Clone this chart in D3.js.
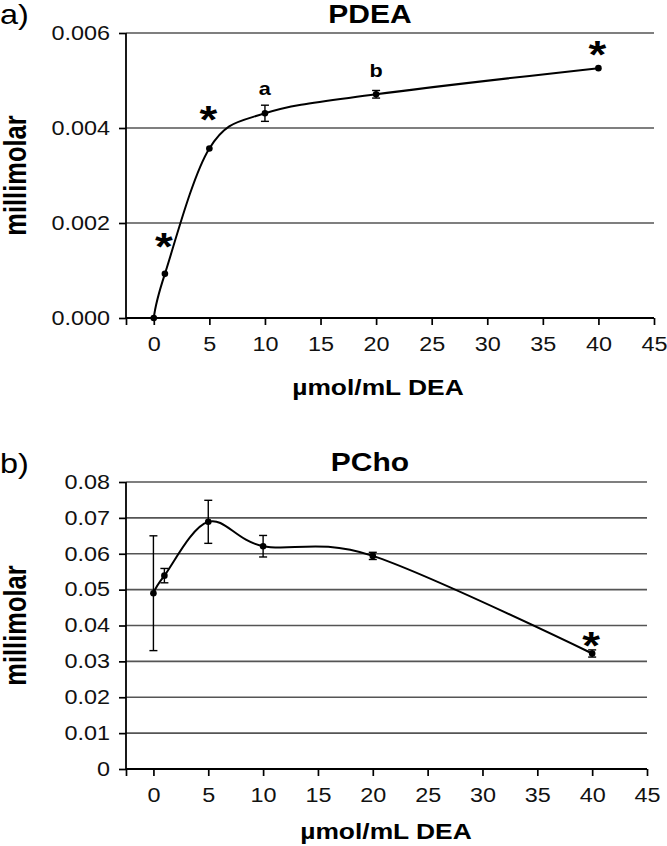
<!DOCTYPE html>
<html>
<head>
<meta charset="utf-8">
<script src="https://cdn.jsdelivr.net/npm/d3@7"></script>
<style>
  body { margin: 0; background: #fff; }
  text { font-family: "Liberation Sans", Arial, sans-serif; }
  /* the original figure is a bit stretched sideways */
  .sx { transform-box: fill-box; transform-origin: center; transform: scaleX(1.2); }
  .sxr { transform-box: fill-box; transform-origin: right center; transform: scaleX(1.2); }
  .sxl { transform-box: fill-box; transform-origin: left center; transform: scaleX(1.2); }
</style>
</head>
<body>
<script>
// doses of DEA and measured concentrations (millimolar)
const doses = [0, 1, 5, 10, 20, 40]
const pdea = [0, 0.00093, 0.00357, 0.00431, 0.00471, 0.00526]
const pdeaErr = [0, 0, 0, 0.00017, 0.00008, 0]
const pcho = [0.049, 0.0539, 0.0689, 0.0621, 0.0594, 0.0322]
const pchoErr = [0.016, 0.002, 0.006, 0.003, 0.001, 0.001]

const xTicks = [0, 5, 10, 15, 20, 25, 30, 35, 40, 45]
const pdeaTicks = [0, 0.002, 0.004, 0.006]
const pchoTicks = [0, 0.01, 0.02, 0.03, 0.04, 0.05, 0.06, 0.07, 0.08]

// significance marks: [dose, level where the mark sits, text]
const pdeaMarks = [[1, 0.00166, '*'], [5, 0.00434, '*'], [40, 0.00571, '*'], [10, 0.0048, 'a'], [20, 0.00518, 'b']]
const pchoMarks = [[40, 0.0366, '*']]

const W = 667
const H = 846

const svg = d3.select('body')
  .append('svg')
  .attr('width', W)
  .attr('height', H)

function drawPanel(opt) {
  const x = d3.scaleLinear().domain([-2.5, 45]).range([opt.left, opt.right])
  const y = d3.scaleLinear().domain([0, opt.yMax]).range([opt.bottom, opt.top])
  const g = svg.append('g')

  // gridlines
  g.selectAll('line.grid')
    .data(opt.yTicks.filter(d => d > 0))
    .enter()
    .append('line')
    .attr('x1', opt.left)
    .attr('x2', opt.right)
    .attr('y1', d => y(d))
    .attr('y2', d => y(d))
    .attr('stroke', '#555')
    .attr('stroke-width', 1.7)

  const yAxis = g.append('g')
    .attr('transform', `translate(${opt.left},0)`)
    .call(d3.axisLeft(y).tickValues(opt.yTicks).tickFormat(opt.fmt).tickSize(7).tickPadding(9))
  const xAxis = g.append('g')
    .attr('transform', `translate(0,${opt.bottom})`)
    .call(d3.axisBottom(x).tickValues([-2.5].concat(xTicks))
      .tickFormat(d => d < 0 ? '' : d).tickSize(7).tickPadding(12))

  ;[yAxis, xAxis].forEach(a => {
    a.select('.domain').attr('stroke', '#000').attr('stroke-width', 1.8)
    a.selectAll('.tick line').attr('stroke', '#000').attr('stroke-width', 1.7)
    a.selectAll('text').attr('font-size', 19.5).attr('fill', '#111')
      .style('font-family', '"Liberation Sans", Arial, sans-serif')
  })
  yAxis.selectAll('text').attr('class', 'sxr')
  xAxis.selectAll('text').attr('class', 'sx')
  yAxis.select('.domain').attr('d', `M0,${opt.bottom}V${opt.top}`)
  xAxis.select('.domain').attr('d', `M${opt.left},0H${opt.right}`)

  const pts = doses.map((d, i) => ({ x: d, y: opt.values[i], e: opt.errors[i] }))

  // smoothed line (excel style)
  const line = d3.line()
    .x(d => x(d.x))
    .y(d => y(d.y))
    .curve(d3.curveCardinal.tension(0))
  g.append('path')
    .attr('d', line(pts))
    .attr('fill', 'none')
    .attr('stroke', '#000')
    .attr('stroke-width', 2)

  // error bars
  const eb = g.selectAll('g.err')
    .data(pts.filter(d => d.e > 0))
    .enter()
    .append('g')
    .attr('stroke', '#000')
    .attr('stroke-width', 1.4)
  eb.append('line')
    .attr('x1', d => x(d.x)).attr('x2', d => x(d.x))
    .attr('y1', d => y(d.y - d.e)).attr('y2', d => y(d.y + d.e))
  eb.append('line')
    .attr('x1', d => x(d.x) - 4).attr('x2', d => x(d.x) + 4)
    .attr('y1', d => y(d.y - d.e)).attr('y2', d => y(d.y - d.e))
  eb.append('line')
    .attr('x1', d => x(d.x) - 4).attr('x2', d => x(d.x) + 4)
    .attr('y1', d => y(d.y + d.e)).attr('y2', d => y(d.y + d.e))

  g.selectAll('circle')
    .data(pts)
    .enter()
    .append('circle')
    .attr('cx', d => x(d.x))
    .attr('cy', d => y(d.y))
    .attr('r', 3.3)
    .attr('fill', '#000')

  // significance marks, centred on their level
  g.selectAll('text.mark')
    .data(opt.marks)
    .enter()
    .append('text')
    .attr('class', 'sx')
    .attr('x', d => x(d[0]) - (d[2] === '*' ? 1 : 0))
    .attr('y', d => y(d[1]) + (d[2] === '*' ? 21 : 5))
    .attr('text-anchor', 'middle')
    .attr('font-weight', 'bold')
    .attr('font-size', d => d[2] === '*' ? 38 : 18)
    .text(d => d[2])

  // titles
  g.append('text')
    .attr('class', 'sx')
    .attr('x', opt.titleX)
    .attr('y', opt.top - 10.5)
    .attr('text-anchor', 'middle')
    .attr('font-weight', 'bold')
    .attr('font-size', 25)
    .text(opt.title)

  g.append('text')
    .attr('class', 'sxl')
    .attr('x', 0)
    .attr('y', opt.top - 9)
    .attr('font-size', 27)
    .text(opt.panel)

  g.append('text')
    .attr('transform', `translate(26,${(opt.top + opt.bottom) / 2}) rotate(-90) scale(1,1.2)`)
    .attr('text-anchor', 'middle')
    .attr('font-weight', 'bold')
    .attr('font-size', 25.5)
    .text('millimolar')

  g.append('text')
    .attr('class', 'sx')
    .attr('x', opt.xLabelX)
    .attr('y', opt.xLabelY)
    .attr('text-anchor', 'middle')
    .attr('font-weight', 'bold')
    .attr('font-size', 22)
    .text('\u00b5mol/mL DEA')
}

drawPanel({
  panel: 'a)', title: 'PDEA',
  left: 126, right: 654, top: 33, bottom: 318,
  yMax: 0.006, yTicks: pdeaTicks, fmt: d3.format('.3f'),
  values: pdea, errors: pdeaErr, marks: pdeaMarks,
  titleX: 370, xLabelX: 378, xLabelY: 395
})

drawPanel({
  panel: 'b)', title: 'PCho',
  left: 126, right: 647, top: 482, bottom: 769,
  yMax: 0.08, yTicks: pchoTicks, fmt: d => d === 0 ? '0' : d3.format('.2f')(d),
  values: pcho, errors: pchoErr, marks: pchoMarks,
  titleX: 370, xLabelX: 386, xLabelY: 839
})
</script>
</body>
</html>
